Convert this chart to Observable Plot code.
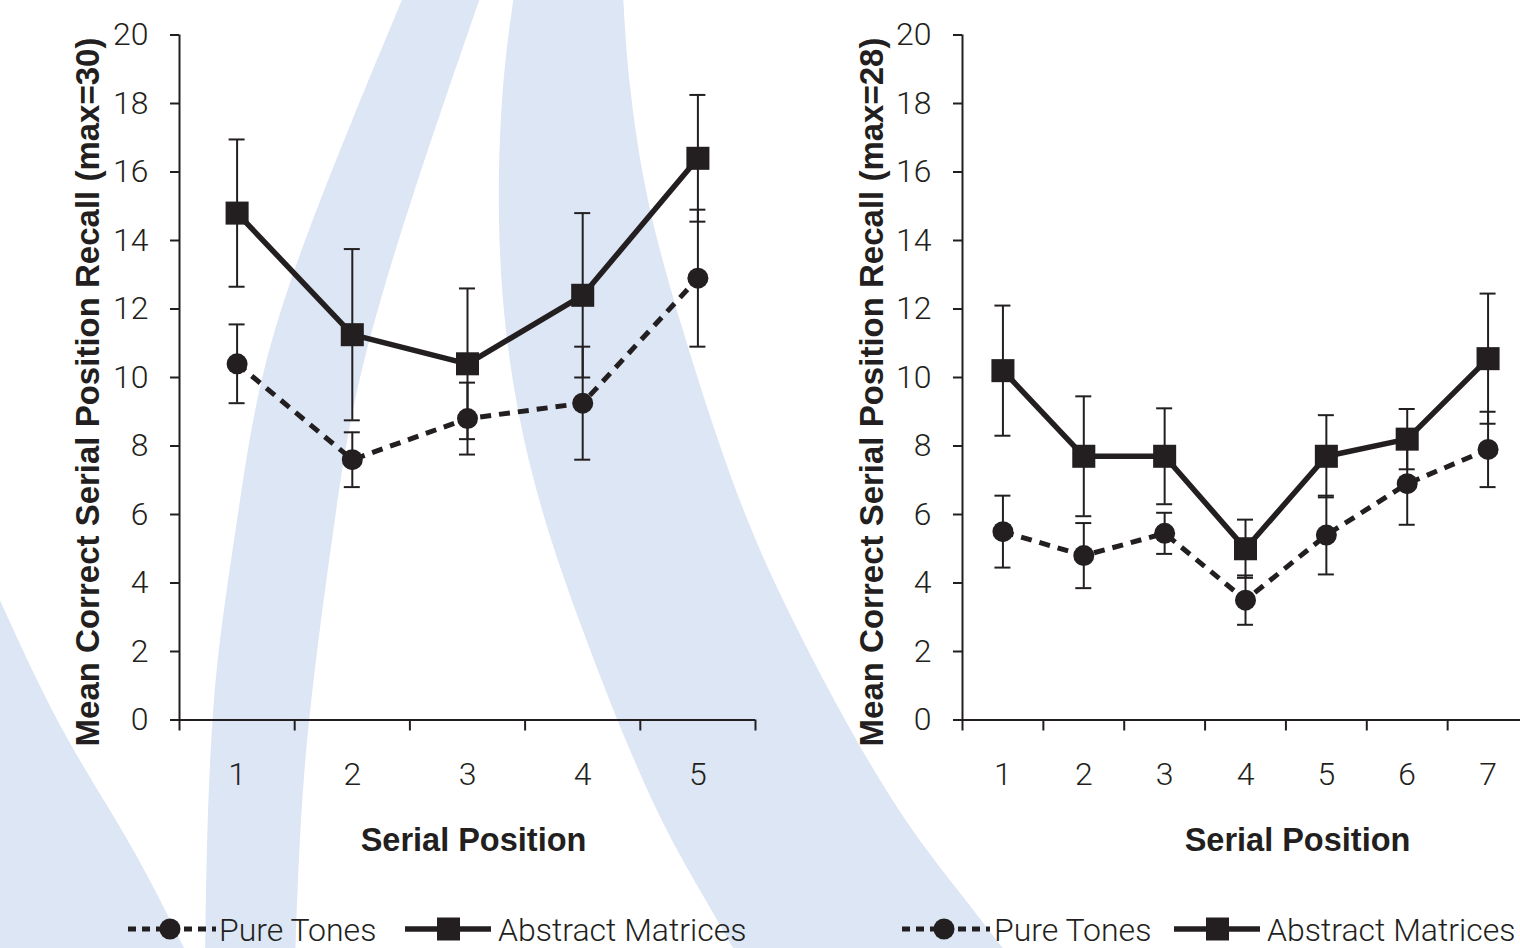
<!DOCTYPE html>
<html>
<head>
<meta charset="utf-8">
<script src="https://cdn.jsdelivr.net/npm/d3@7"></script>
<script src="https://cdn.jsdelivr.net/npm/@observablehq/plot@0.6"></script>
<style>
  html, body { margin: 0; padding: 0; background: #ffffff; overflow: hidden; }
  #wrap { position: relative; width: 1520px; height: 948px; overflow: hidden; background: #ffffff; }
  #bg { position: absolute; left: 0; top: 0; }
  .panel { position: absolute; top: 0; }
  .legend-item { position: absolute; top: 912px; height: 36px; line-height: 36px; white-space: nowrap;
    font-family: Roboto, "Liberation Sans", Arial, sans-serif; font-weight: 300; font-size: 32px; color: #231f20; }
  .legend-sym { position: absolute; top: 914px; }
</style>
</head>
<body>
<div id="wrap"></div>
<script>
// ---------------- data ----------------
const seriesNames = ["Pure Tones", "Abstract Matrices"];
const xTitle = "Serial Position";
const yTitles = ["Mean Correct Serial Position Recall (max=30)", "Mean Correct Serial Position Recall (max=28)"];
const yTicks = [0, 2, 4, 6, 8, 10, 12, 14, 16, 18, 20];

// left panel (5 positions)
const positionsA = [1, 2, 3, 4, 5];
const tonesA = [10.4, 7.6, 8.8, 9.25, 12.9];
const tonesErrA = [1.15, 0.8, 1.05, 1.65, 2.0];
const matricesA = [14.8, 11.25, 10.4, 12.4, 16.4];
const matricesErrA = [2.15, 2.5, 2.2, 2.4, 1.85];

// right panel (7 positions)
const positionsB = [1, 2, 3, 4, 5, 6, 7];
const tonesB = [5.5, 4.8, 5.45, 3.5, 5.4, 6.9, 7.9];
const tonesErrB = [1.05, 0.95, 0.6, 0.72, 1.15, 1.2, 1.1];
const matricesB = [10.2, 7.7, 7.7, 5.0, 7.7, 8.2, 10.55];
const matricesErrB = [1.9, 1.75, 1.4, 0.85, 1.2, 0.88, 1.9];

// ---------------- styling ----------------
const INK = "#231f20";
const BAND = "#dce6f4";
const LIGHT_FONT = "Roboto, 'Liberation Sans', Arial, sans-serif";
const BOLD_FONT = "'Liberation Sans', Arial, Helvetica, sans-serif";
const DASH = "11,8";

const wrap = document.getElementById("wrap");

// ---------------- decorative background (page ornament, not data) ----------------
const decor = [
  { // narrow diagonal band
    a: [[404,-5],[404,-5],[352,120],[300,250],[259,376],[240,500],[222,620],[213,700],[207,820],[205,960],[205,960]],
    b: [[295,960],[295,960],[300,820],[310,700],[337,500],[357,376],[410,200],[481,-5],[481,-5]]
  },
  { // wide curving band
    a: [[514,-5],[514,-5],[502,80],[497,200],[503,330],[528,470],[570,600],[648,800],[700,890],[740,960],[740,960]],
    b: [[1012,960],[1012,960],[958,890],[887,800],[780,600],[730,480],[682,330],[645,200],[628,80],[623,-5],[623,-5]]
  },
  { // bottom-left wedge
    a: [[-5,590],[-5,590],[0,600],[33,673],[67,740],[110,810],[147,873],[190,960],[190,960]],
    b: [[-5,960]]
  }
];
const bg = d3.create("svg").attr("id", "bg").attr("width", 1520).attr("height", 948);
const curve = d3.line().curve(d3.curveBasis);
for (const d of decor) {
  const pathA = curve(d.a);
  const pathB = d.b.length > 1 ? curve(d.b).replace(/^M/, "L") : "L" + d.b[0].join(",");
  bg.append("path").attr("d", pathA + pathB + "Z").attr("fill", BAND);
}
wrap.appendChild(bg.node());

// ---------------- panels ----------------
function rows(pos, mean, err) {
  return pos.map((p, i) => ({pos: p, mean: mean[i], lo: mean[i] - err[i], hi: mean[i] + err[i]}));
}

function panel({left, width, marginLeft, marginRight, positions, tones, tonesErr, matrices, matricesErr, yTitle, xTitleDx, yTitleDx}) {
  const n = positions.length;
  const t = rows(positions, tones, tonesErr);
  const m = rows(positions, matrices, matricesErr);
  const boundaries = d3.range(n + 1).map(i => i + 0.5);
  const cap = {stroke: INK, strokeWidth: 2, insetLeft: -8, insetRight: -8};
  const chart = Plot.plot({
    width, height: 880,
    marginLeft, marginRight, marginTop: 34.5, marginBottom: 880 - 719.5,
    x: {domain: [0.5, n + 0.5], axis: null},
    y: {domain: [0, 20], axis: null},
    style: {background: "transparent", fontFamily: LIGHT_FONT, color: INK, overflow: "visible"},
    marks: [
      // axis lines
      Plot.ruleX([0.5], {y1: 0, y2: 20, stroke: INK, strokeWidth: 2}),
      Plot.ruleY([0], {x1: 0.5, x2: n + 0.5, stroke: INK, strokeWidth: 2}),
      Plot.axisY({ticks: yTicks, tickSize: 9, tickPadding: 22, fontSize: 32, fontWeight: 300, label: null, tickFormat: d => String(d), stroke: INK, strokeWidth: 2, fill: INK}),
      Plot.axisX({ticks: boundaries, tickSize: 11, tickFormat: () => "", label: null, stroke: INK, strokeWidth: 2}),
      Plot.axisX({ticks: positions, tickSize: 0, tickPadding: 42, fontSize: 32, fontWeight: 300, label: null, tickFormat: d => String(d), fill: INK}),
      // error bars: pure tones
      Plot.ruleX(t, {x: "pos", y1: "lo", y2: "hi", stroke: INK, strokeWidth: 2}),
      Plot.ruleY(t, {y: "hi", x1: "pos", x2: "pos", ...cap}),
      Plot.ruleY(t, {y: "lo", x1: "pos", x2: "pos", ...cap}),
      // error bars: abstract matrices
      Plot.ruleX(m, {x: "pos", y1: "lo", y2: "hi", stroke: INK, strokeWidth: 2}),
      Plot.ruleY(m, {y: "hi", x1: "pos", x2: "pos", ...cap}),
      Plot.ruleY(m, {y: "lo", x1: "pos", x2: "pos", ...cap}),
      // lines
      Plot.line(t, {x: "pos", y: "mean", stroke: INK, strokeWidth: 5, strokeDasharray: DASH, strokeLinecap: "butt"}),
      Plot.line(m, {x: "pos", y: "mean", stroke: INK, strokeWidth: 5.5}),
      // markers
      Plot.dot(t, {x: "pos", y: "mean", symbol: "circle", r: 10.5, fill: INK, stroke: "none"}),
      Plot.dot(m, {x: "pos", y: "mean", symbol: "square", r: 13, fill: INK, stroke: "none"}),
      // titles
      Plot.text([xTitle], {text: d => d, frameAnchor: "bottom", dy: 120.5, dx: xTitleDx, fontSize: 32.5, fontWeight: "bold", fontFamily: BOLD_FONT, fill: INK, lineAnchor: "middle", textAnchor: "middle"}),
      Plot.text([yTitle], {text: d => d, frameAnchor: "left", rotate: -90, dx: yTitleDx, dy: 14.5, fontSize: 33, fontWeight: "bold", fontFamily: BOLD_FONT, fill: INK, lineAnchor: "middle", textAnchor: "middle"})
    ]
  });
  chart.classList.add("panel");
  chart.style.left = left + "px";
  wrap.appendChild(chart);
}

panel({left: 0, width: 770, marginLeft: 179, marginRight: 15,
  positions: positionsA, tones: tonesA, tonesErr: tonesErrA, matrices: matricesA, matricesErr: matricesErrA,
  yTitle: yTitles[0], xTitleDx: 6, yTitleDx: -91});
panel({left: 780, width: 760, marginLeft: 182, marginRight: 12,
  positions: positionsB, tones: tonesB, tonesErr: tonesErrB, matrices: matricesB, matricesErr: matricesErrB,
  yTitle: yTitles[1], xTitleDx: 52, yTitleDx: -90});

// ---------------- legends ----------------
function symbol(kind) {
  const s = d3.create("svg").attr("class", "legend-sym").attr("width", 92).attr("height", 30);
  if (kind === 0) {
    s.append("line").attr("x1", 2).attr("x2", 90).attr("y1", 15).attr("y2", 15)
      .attr("stroke", INK).attr("stroke-width", 5).attr("stroke-dasharray", "8,6");
    s.append("circle").attr("cx", 44).attr("cy", 15).attr("r", 10.5).attr("fill", INK);
  } else {
    s.attr("width", 86);
    s.append("line").attr("x1", 0).attr("x2", 86).attr("y1", 15).attr("y2", 15)
      .attr("stroke", INK).attr("stroke-width", 5.5);
    s.append("rect").attr("x", 32).attr("y", 3.5).attr("width", 23).attr("height", 23).attr("fill", INK);
  }
  return s.node();
}
function legend(symLefts, textLefts) {
  seriesNames.forEach((name, i) => {
    const sym = symbol(i);
    sym.style.left = symLefts[i] + "px";
    wrap.appendChild(sym);
    const div = document.createElement("div");
    div.className = "legend-item";
    div.style.left = textLefts[i] + "px";
    div.textContent = name;
    wrap.appendChild(div);
  });
}
legend([126, 405], [219, 498]);
legend([900, 1174], [994, 1267]);
</script>
</body>
</html>
